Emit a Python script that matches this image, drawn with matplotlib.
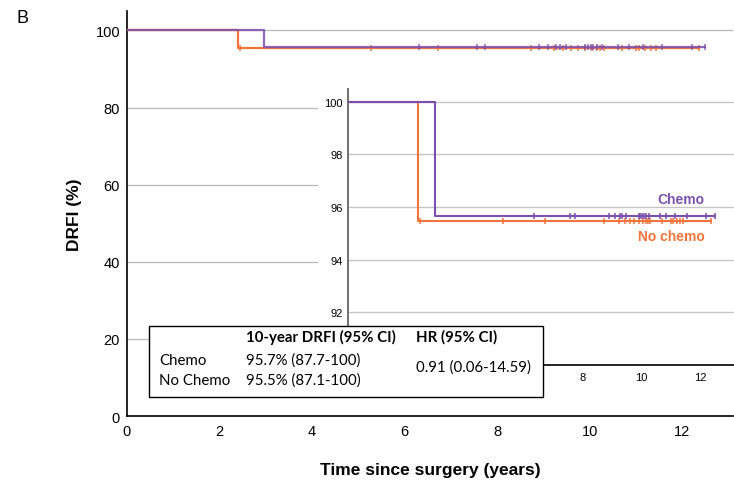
"""Panel B - curvas KM de DRFI (chemo vs no chemo) con recuadro ampliado."""
import matplotlib
matplotlib.use("Agg")
import matplotlib.pyplot as plt
from matplotlib.patches import Rectangle

# datos
evento_chemo, nivel_chemo = 2.95, 95.65
evento_nochemo, nivel_nochemo = 2.40, 95.45
cens_chemo = [6.32, 7.56, 7.73, 8.9, 9.1, 9.28, 9.35, 9.48, 9.9, 9.96, 10.02, 10.08,
              10.16, 10.27, 10.62, 10.85, 11.15, 11.55, 12.2, 12.5]
cens_nochemo = [2.45, 5.28, 6.72, 8.72, 9.22, 9.42, 9.6, 9.75, 9.9, 10.05, 10.15, 10.22,
                10.3, 10.7, 11.0, 11.06, 11.2, 11.32, 11.42, 12.35]
yticks_main = [0, 20, 40, 60, 80, 100]
xticks_main = [0, 2, 4, 6, 8, 10, 12]
yticks_ins = [92, 94, 96, 98, 100]
xticks_ins = [8, 10, 12]
tabla_hdr = ["10-year DRFI (95% CI)", "HR (95% CI)"]
tabla_grupos = ["Chemo", "No Chemo"]
tabla_drfi = ["95.7% (87.7-100)", "95.5% (87.1-100)"]
tabla_hr = "0.91 (0.06-14.59)"

MORADO = "#7b4fae"
NARANJA = "#f2743a"
plt.rcParams["font.family"] = ["Liberation Sans", "DejaVu Sans"]

def curva(ax, t_ev, nivel, cens, color, lw, ms, alpha=1.0):
    fin = max(cens)
    ax.step([0, t_ev, fin], [100, nivel, nivel], where="post", color=color, lw=lw, alpha=alpha, zorder=3)
    ax.plot(cens, [nivel] * len(cens), "|", color=color, ms=ms, mew=1.1, alpha=alpha, zorder=3)

fig = plt.figure(figsize=(7.34, 4.85), dpi=100)
ax = fig.add_axes([0.173, 0.140, 0.826, 0.835])
ax.set_xlim(0, 13.1); ax.set_ylim(0, 105)
ax.set_yticks(yticks_main); ax.set_xticks(xticks_main)
ax.tick_params(length=0, labelsize=10.5)
ax.tick_params(axis="x", pad=6); ax.tick_params(axis="y", pad=5)
for y in yticks_main[1:]:
    ax.axhline(y, color="#b8b8b8", lw=0.9, zorder=1)
for s in ["top", "right"]:
    ax.spines[s].set_visible(False)
for s in ["left", "bottom"]:
    ax.spines[s].set_linewidth(1.2)
curva(ax, evento_nochemo, nivel_nochemo, cens_nochemo, NARANJA, 1.6, 5)
curva(ax, evento_chemo, nivel_chemo, cens_chemo, MORADO, 1.6, 5, alpha=0.85)
ax.set_ylabel("DRFI (%)", fontsize=12.5, fontweight="bold", labelpad=10)
ax.set_xlabel("Time since surgery (years)", fontsize=12.5, fontweight="bold", labelpad=17)
fig.text(0.023, 0.962, "B", fontsize=13, va="center")

# fondo blanco del recuadro (incluye etiquetas)
fig.add_artist(Rectangle((318 / 734, 1 - 392 / 485), 1 - 318 / 734, (392 - 88) / 485,
                         transform=fig.transFigure, facecolor="white", edgecolor="none", zorder=1))

ins = fig.add_axes([348 / 734, 1 - 366 / 485, 1 - 348 / 734, (366 - 89.5) / 485])
ins.set_zorder(2)
ins.set_xlim(0, 13.15); ins.set_ylim(90, 100.5)
ins.set_yticks(yticks_ins); ins.set_xticks(xticks_ins)
ins.tick_params(length=0, labelsize=8)
ins.tick_params(axis="y", pad=4); ins.tick_params(axis="x", pad=5)
for y in yticks_ins:
    ins.axhline(y, color="#c4c4c4", lw=1.0, zorder=1)
for s in ["top", "right"]:
    ins.spines[s].set_visible(False)
ins.spines["left"].set_color("#707070"); ins.spines["left"].set_linewidth(1.4)
ins.spines["bottom"].set_linewidth(1.2)
curva(ins, evento_nochemo, nivel_nochemo, cens_nochemo, NARANJA, 1.5, 4)
curva(ins, evento_chemo, nivel_chemo, cens_chemo, MORADO, 1.5, 4)
ins.text(12.15, 96.3, "Chemo", color=MORADO, fontsize=10, fontweight="bold", ha="right", va="center")
ins.text(12.15, 94.9, "No chemo", color=NARANJA, fontsize=10, fontweight="bold", ha="right", va="center")

# tabla de resumen
fig.add_artist(Rectangle((149 / 734, 1 - 398 / 485), (543 - 149) / 734, (398 - 327) / 485,
                         transform=fig.transFigure, facecolor="white", edgecolor="black", lw=1.0, zorder=3))
ft = dict(family=["Lato", "DejaVu Sans"], fontsize=10.8, va="center", zorder=4)
px = lambda x, y: (x / 734, 1 - y / 485)
fig.text(*px(246, 337), tabla_hdr[0], fontweight="bold", **ft)
fig.text(*px(416, 337), tabla_hdr[1], fontweight="bold", **ft)
for i, (g, d) in enumerate(zip(tabla_grupos, tabla_drfi)):
    fig.text(*px(159, 361 + 20 * i), g, **ft)
    fig.text(*px(246, 361 + 20 * i), d, **ft)
fig.text(*px(416, 368), tabla_hr, **ft)

fig.savefig("out.png", dpi=100)
plt.close(fig)
